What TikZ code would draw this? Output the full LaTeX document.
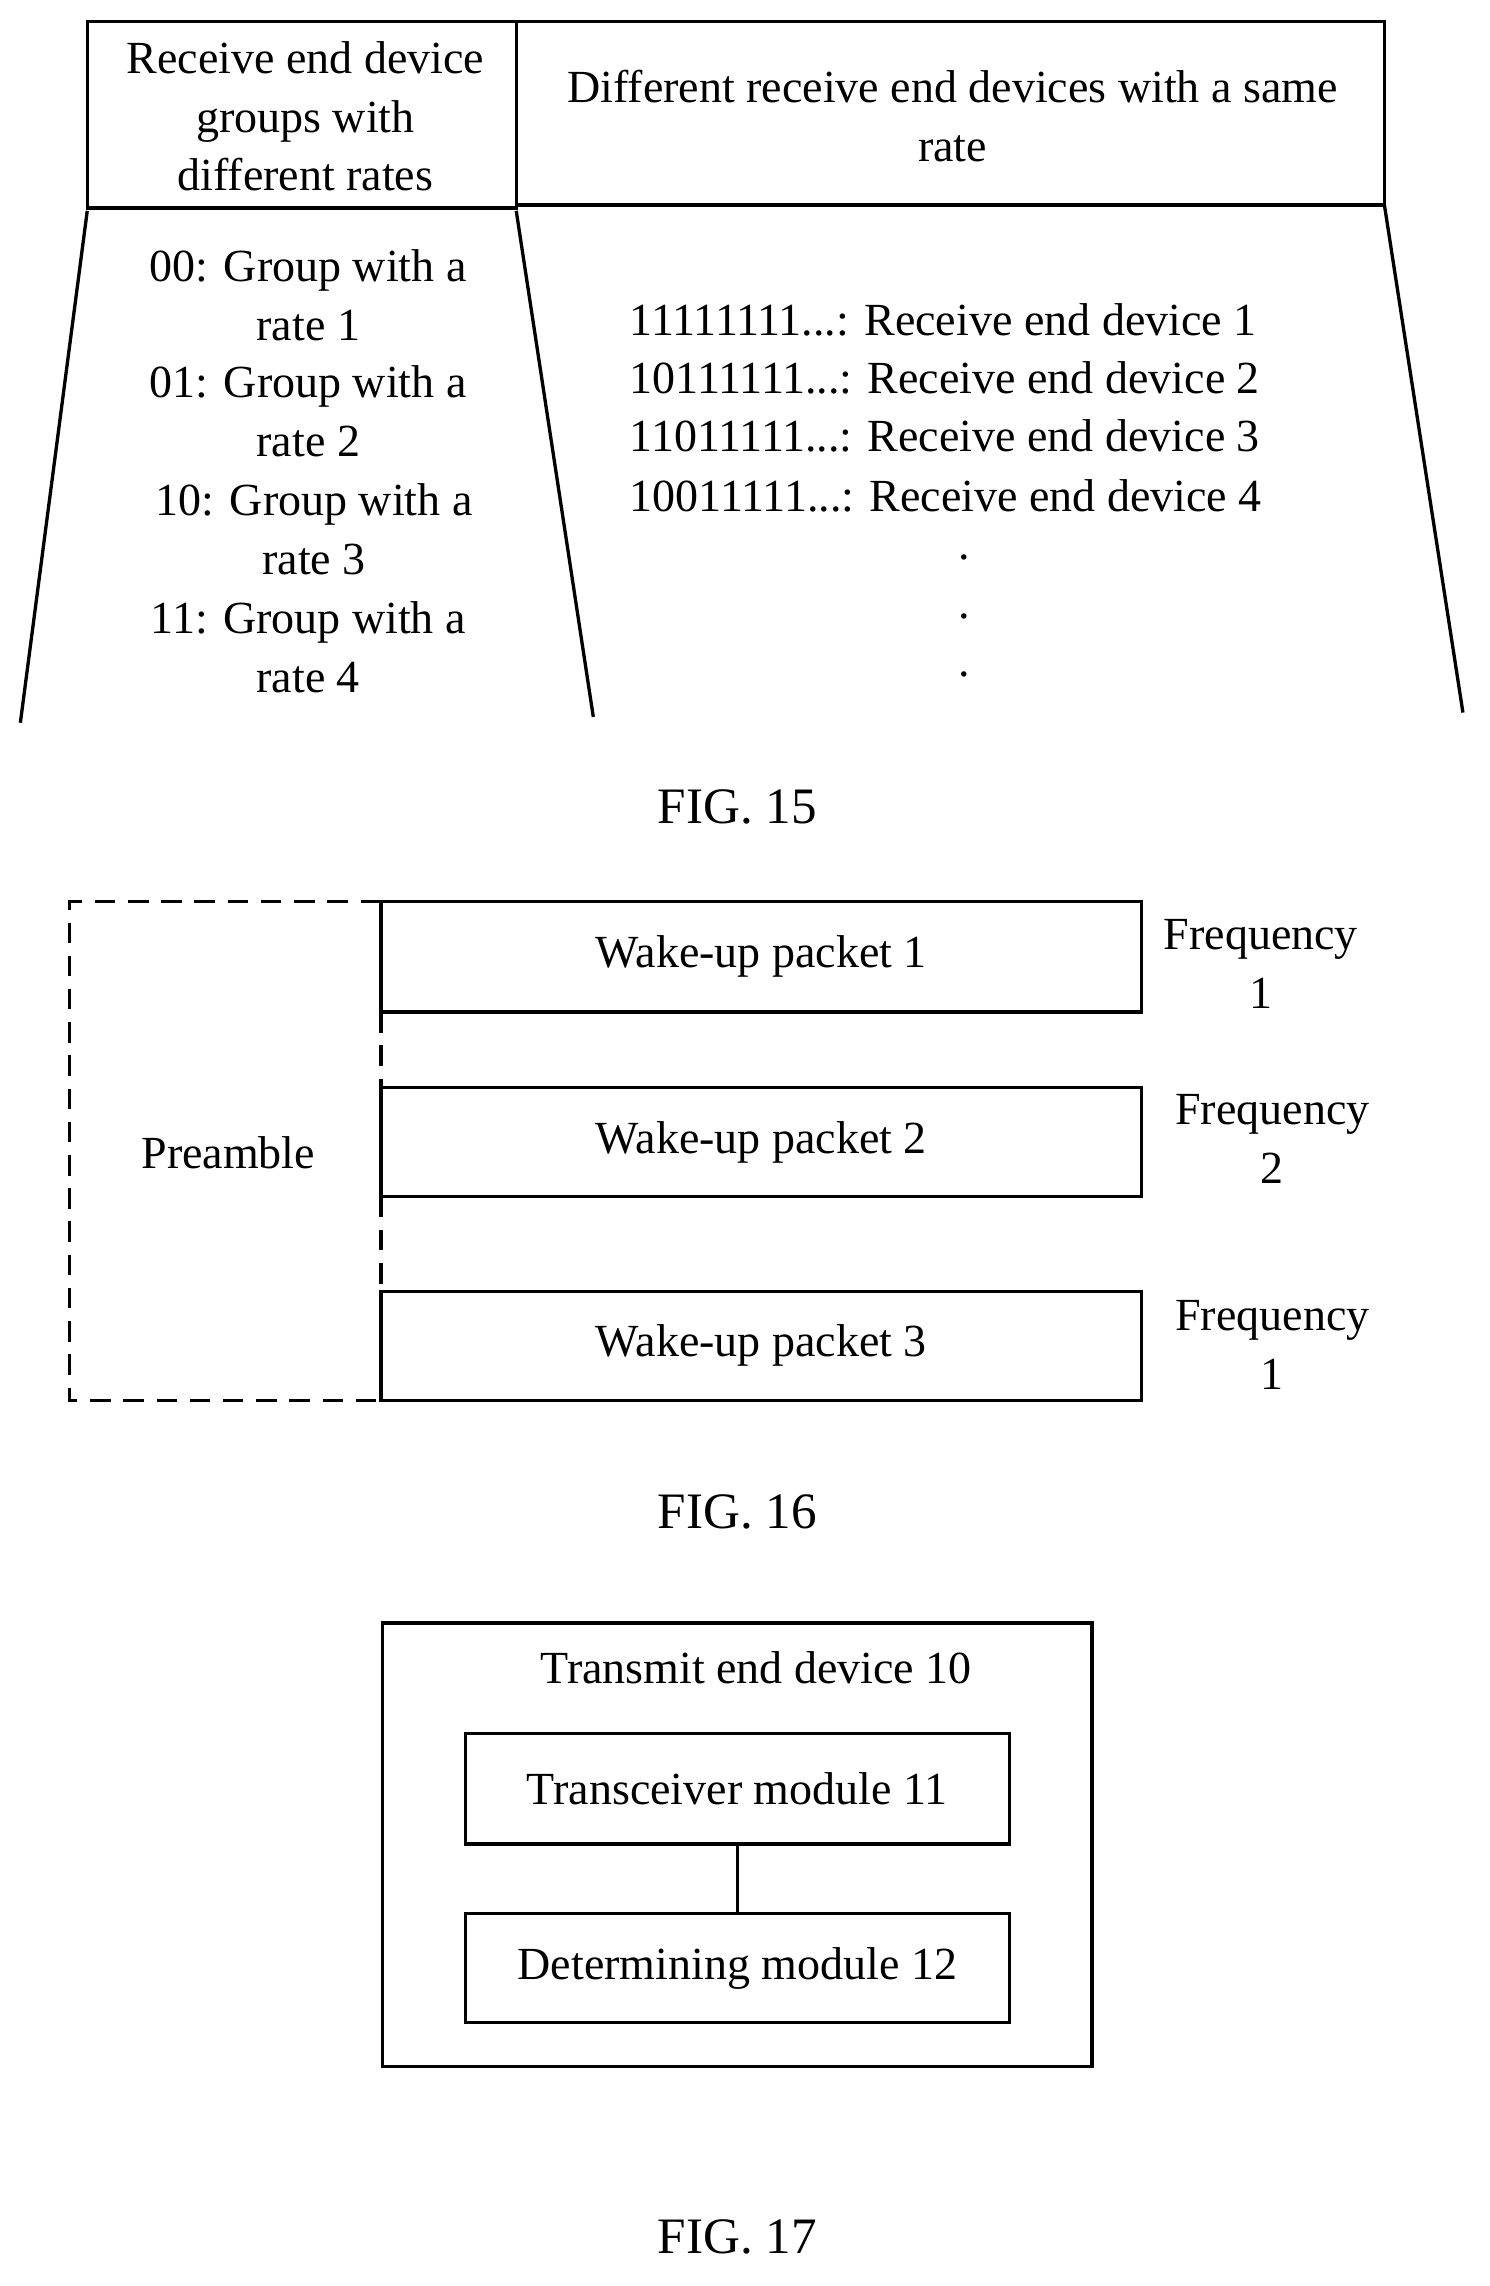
\documentclass[tikz,border=0pt]{standalone}
\usepackage{fontspec}
\setmainfont{Liberation Serif}
\begin{document}
\begin{tikzpicture}[x=0.02cm,y=-0.02cm,line width=1.3pt,
  txt/.style={align=center,font=\fontsize{18}{23}\selectfont,inner sep=0pt},
  figcap/.style={font=\fontsize{20}{24}\selectfont,inner sep=0pt},
  box/.style={draw,line width=1.3pt}]
\useasboundingbox (0,0) rectangle (1024,1572);
% FIG 15
\draw[box] (60,15) rectangle (355,143);
\draw[box] (355,15) rectangle (952,141);
\node[txt] (h1) at (210,80) {Receive end device\\groups with\\different rates};
\node[txt] (h2) at (655,80) {Different receive end devices with a same\\rate};
\draw (60,145) -- (14,497);
\draw (355,145) -- (408,493);
\draw (952,141) -- (1006,490);
\node[txt] (l1) at (212,203) {00: Group with a\\rate 1};
\node[txt] (l2) at (212,283) {01: Group with a\\rate 2};
\node[txt] (l3) at (216,364) {10: Group with a\\rate 3};
\node[txt] (l4) at (212,445) {11: Group with a\\rate 4};
\node[txt,anchor=west] (r1) at (432,220) {11111111...: Receive end device 1};
\node[txt,anchor=west] (r2) at (432,260) {10111111...: Receive end device 2};
\node[txt,anchor=west] (r3) at (432,300) {11011111...: Receive end device 3};
\node[txt,anchor=west] (r4) at (432,341) {10011111...: Receive end device 4};
\node[txt] (d1) at (663,383) {.};
\node[txt] (d2) at (663,424) {.};
\node[txt] (d3) at (663,464) {.};
\node[figcap] (f15) at (507,555) {FIG. 15};
% FIG 16
\draw[dash pattern=on 8pt off 5pt] (262,620) -- (48,620) -- (48,963) -- (262,963);
\draw[dash pattern=on 8pt off 5pt] (262,696) -- (262,748);
\draw[dash pattern=on 8pt off 5pt] (262,823) -- (262,888);
\node[box,minimum width=10.46cm,minimum height=1.52cm,txt] (p1) at (523.5,658) {Wake-up packet 1};
\node[box,minimum width=10.46cm,minimum height=1.5cm,txt] (p2) at (523.5,785.5) {Wake-up packet 2};
\node[box,minimum width=10.46cm,minimum height=1.5cm,txt] (p3) at (523.5,925.5) {Wake-up packet 3};
\node[txt] (pre) at (157,793) {Preamble};
\node[txt] (q1) at (867,663) {Frequency\\1};
\node[txt] (q2) at (875,783) {Frequency\\2};
\node[txt] (q3) at (875,925) {Frequency\\1};
\node[figcap] (f16) at (507,1040) {FIG. 16};
% FIG 17
\draw[box] (263,1116) rectangle (751,1421);
\node[txt] (t) at (520,1147) {Transmit end device 10};
\node[box,minimum width=7.48cm,minimum height=1.52cm,txt] (m1) at (507,1230) {Transceiver module 11};
\node[box,minimum width=7.48cm,minimum height=1.5cm,txt] (m2) at (507,1353.5) {Determining module 12};
\draw (m1) -- (m2);
\node[figcap] (f17) at (507,1538) {FIG. 17};
\end{tikzpicture}
\end{document}
